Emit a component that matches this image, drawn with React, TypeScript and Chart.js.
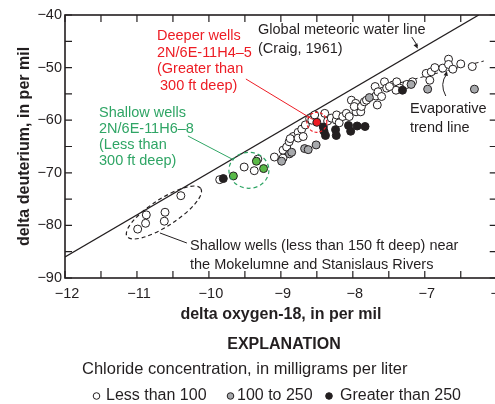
import React, { useEffect, useRef } from 'react';
import { Chart, registerables } from 'chart.js';

Chart.register(...registerables);

const FONT = '"Liberation Sans", Arial, Helvetica, sans-serif';
const INK = '#231f20';
const RED = '#ed1c24';
const GREEN_TEXT = '#2fa565';
const GREEN_FILL = '#5ab947';
const GRAY_FILL = '#a7a9ac';

const xTicks = [-12, -11, -10, -9, -8, -7, -6];
const yTicks = [-90, -80, -70, -60, -50, -40];

// Chloride < 100 mg/L (open circles)
const openX = [-10.99, -10.88, -10.87, -10.62, -10.61, -10.39, -9.85, -9.51, -9.37, -9.32, -9.09, -8.97, -8.97, -8.92, -8.885, -8.83, -8.87, -8.76, -8.71, -8.66, -8.6, -8.57, -8.53, -8.76, -8.69, -8.39, -8.35, -8.3, -8.23, -8.225, -8.19, -8.14, -8.09, -8.05, -8.02, -7.96, -7.955, -7.98, -7.89, -7.88, -7.84, -7.81, -7.69, -7.68, -7.66, -7.65, -7.6, -7.56, -7.53, -7.44, -7.39, -7.35, -7.4, -7.25, -7.17, -6.98, -6.93, -6.91, -6.86, -6.75, -6.67, -6.67, -6.61, -6.5, -6.34, -7.49];
const openY = [-80.7, -79.6, -78.0, -79.2, -77.5, -74.35, -71.3, -68.9, -69.6, -67.4, -67.0, -67.2, -65.7, -65.1, -64.1, -63.1, -63.5, -62.3, -61.7, -60.9, -59.7, -60.0, -59.0, -63.4, -63.1, -58.7, -60.15, -59.6, -60.0, -59.0, -60.5, -59.3, -58.7, -59.3, -56.2, -56.8, -58.4, -57.4, -58.4, -57.4, -56.5, -56.2, -53.6, -55.4, -57.1, -54.6, -55.5, -52.7, -53.9, -53.3, -52.7, -53.9, -54.3, -53.2, -52.7, -51.1, -52.4, -50.8, -50.0, -50.1, -48.4, -49.4, -50.3, -49.3, -49.8, -53.6];

// Chloride 100 to 250 mg/L (gray)
const grayX = [-8.99, -8.88, -8.85, -8.67, -8.62, -8.51, -7.77, -7.19, -6.96, -6.31];
const grayY = [-67.8, -66.4, -66.1, -65.4, -65.6, -64.7, -55.7, -53.2, -54.1, -54.1];

// Chloride > 250 mg/L (black)
const blackX = [-9.8, -8.41, -8.4, -8.38, -8.24, -8.23, -8.06, -8.03, -7.94, -7.83, -7.31];
const blackY = [-71.1, -61.3, -62.1, -62.9, -61.8, -62.9, -61.0, -62.1, -61.1, -61.2, -54.3];

// Shallow wells 2N/6E-11H6-8 (green)
const greenX = [-9.66, -9.34, -9.24];
const greenY = [-70.6, -67.8, -69.2];

// Deeper wells 2N/6E-11H4-5 (red)
const redX = [-8.5];
const redY = [-60.4];

// Global meteoric water line dD = 8*d18O + 10
const gmwlX = [-12, -6.25];
const gmwlY = [-86, -40];

// Evaporative trend line
const trendX = [-7.625, -6.18];
const trendY = [-53.9, -48.75];

const legendLabels = ['Less than 100', '100 to 250', 'Greater than 250'];

const pts = (xs: number[], ys: number[]) => xs.map((x, i) => ({ x, y: ys[i] }));
const minus = (v: number) => (v < 0 ? '\u2212' : '') + Math.abs(v);

function arrowHead(ctx: CanvasRenderingContext2D, fx: number, fy: number, tx: number, ty: number, len: number, w: number) {
  const ang = Math.atan2(ty - fy, tx - fx);
  ctx.beginPath();
  ctx.moveTo(tx, ty);
  ctx.lineTo(tx - len * Math.cos(ang) + w * Math.sin(ang), ty - len * Math.sin(ang) - w * Math.cos(ang));
  ctx.lineTo(tx - len * Math.cos(ang) - w * Math.sin(ang), ty - len * Math.sin(ang) + w * Math.cos(ang));
  ctx.closePath();
  ctx.fill();
}

const decor = {
  id: 'decor',
  afterDatasetsDraw(chart: any) {
    const { ctx, chartArea: a, scales } = chart;
    const sx = scales.x;
    const sy = scales.y;
    const X = (v: number) => sx.getPixelForValue(v);
    const Y = (v: number) => sy.getPixelForValue(v);
    ctx.save();

    // frame with inward ticks
    ctx.strokeStyle = INK;
    ctx.lineWidth = 1.6;
    ctx.strokeRect(a.left, a.top, a.right - a.left, a.bottom - a.top);
    ctx.lineWidth = 1.2;
    ctx.beginPath();
    for (let v = xTicks[0]; v <= xTicks[xTicks.length - 1] + 1e-9; v += 0.5) {
      const p = X(v);
      ctx.moveTo(p, a.bottom); ctx.lineTo(p, a.bottom - 7);
      ctx.moveTo(p, a.top); ctx.lineTo(p, a.top + 7);
    }
    for (let v = yTicks[0]; v <= yTicks[yTicks.length - 1] + 1e-9; v += 5) {
      const p = Y(v);
      ctx.moveTo(a.left, p); ctx.lineTo(a.left + 7, p);
      ctx.moveTo(a.right, p); ctx.lineTo(a.right - 7, p);
    }
    ctx.stroke();

    // red dashed circle + leader
    ctx.strokeStyle = RED;
    ctx.lineWidth = 1.2;
    ctx.setLineDash([3, 2]);
    ctx.beginPath();
    ctx.arc(X(redX[0]), Y(redY[0]), 10, 0, Math.PI * 2);
    ctx.stroke();
    ctx.setLineDash([]);
    ctx.lineWidth = 1;
    ctx.beginPath();
    ctx.moveTo(X(-9.486), Y(-52.17));
    ctx.lineTo(X(-8.556), Y(-59.87));
    ctx.stroke();

    // green dashed ellipse + leader
    ctx.strokeStyle = GREEN_TEXT;
    ctx.lineWidth = 1.2;
    ctx.setLineDash([4, 3]);
    ctx.beginPath();
    ctx.ellipse(X(-9.444), Y(-69.52), 20, 18, 0, 0, Math.PI * 2);
    ctx.stroke();
    ctx.setLineDash([]);
    ctx.lineWidth = 1;
    ctx.beginPath();
    ctx.moveTo(X(-10.292), Y(-63.0));
    ctx.lineTo(X(-9.653), Y(-67.57));
    ctx.stroke();

    // black dashed ellipse + leader
    ctx.strokeStyle = INK;
    ctx.lineWidth = 1.2;
    ctx.setLineDash([4, 3]);
    ctx.beginPath();
    ctx.ellipse(X(-10.625), Y(-77.55), 44, 13.5, -33 * Math.PI / 180, 0, Math.PI * 2);
    ctx.stroke();
    ctx.setLineDash([]);
    ctx.lineWidth = 1;
    ctx.beginPath();
    ctx.moveTo(X(-10.681), Y(-81.44));
    ctx.lineTo(X(-10.306), Y(-83.35));
    ctx.stroke();

    // GMWL arrow
    ctx.fillStyle = INK;
    ctx.beginPath();
    ctx.moveTo(X(-7.181), Y(-44.18));
    ctx.lineTo(X(-7.1), Y(-45.9));
    ctx.stroke();
    arrowHead(ctx, X(-7.181), Y(-44.18), X(-7.097), Y(-46.4), 5, 2.2);

    // Evaporative arrow (curved)
    ctx.beginPath();
    ctx.moveTo(X(-6.708), Y(-55.4));
    ctx.quadraticCurveTo(X(-6.80), Y(-53.1), X(-6.694), Y(-51.2));
    ctx.stroke();
    arrowHead(ctx, X(-6.72), Y(-52.3), X(-6.694), Y(-50.6), 5, 2.2);

    // annotation texts
    ctx.textBaseline = 'middle';
    ctx.textAlign = 'left';
    ctx.font = `14.5px ${FONT}`;
    ctx.fillStyle = INK;
    ctx.fillText('Global meteoric water line', 258, 30);
    ctx.fillText('(Craig, 1961)', 258, 49);
    ctx.fillText('Evaporative', 410, 109);
    ctx.fillText('trend line', 410, 128);
    ctx.fillText('Shallow wells (less than 150 ft deep) near', 190, 246);
    ctx.fillText('the Mokelumne and Stanislaus Rivers', 190, 265);

    ctx.fillStyle = RED;
    ctx.fillText('Deeper wells', 157, 36);
    ctx.fillText('2N/6E-11H4\u20135', 157, 52.5);
    ctx.fillText('(Greater than', 157, 69);
    ctx.fillText('300 ft deep)', 160, 85.5);

    ctx.fillStyle = GREEN_TEXT;
    ctx.fillText('Shallow wells', 99, 112.5);
    ctx.fillText('2N/6E-11H6\u20138', 99, 128.5);
    ctx.fillText('(Less than', 99, 144.5);
    ctx.fillText('300 ft deep)', 99, 160.5);

    // explanation
    ctx.fillStyle = INK;
    ctx.textAlign = 'center';
    ctx.font = `bold 16px ${FONT}`;
    ctx.fillText('EXPLANATION', 284, 345);
    ctx.textAlign = 'left';
    ctx.font = `16.5px ${FONT}`;
    ctx.fillText('Chloride concentration, in milligrams per liter', 82, 369);

    const fills = ['#ffffff', GRAY_FILL, INK];
    const mx = [96.5, 230.5, 329];
    const tx = [106, 237, 340];
    ctx.font = `16px ${FONT}`;
    legendLabels.forEach((lab, i) => {
      ctx.beginPath();
      ctx.arc(mx[i], 396, 3.3, 0, Math.PI * 2);
      ctx.fillStyle = fills[i];
      ctx.fill();
      ctx.lineWidth = 1;
      ctx.strokeStyle = INK;
      ctx.stroke();
      ctx.fillStyle = INK;
      ctx.fillText(lab, tx[i], 396);
    });

    ctx.restore();
  },
};

export default function App() {
  const ref = useRef<HTMLCanvasElement | null>(null);
  useEffect(() => {
    document.body.style.margin = '0';
    const canvas = ref.current;
    if (!canvas) return;
    const pointDs = (label: string, xs: number[], ys: number[], fill: string, order: number) => ({
      type: 'scatter' as const,
      label,
      data: pts(xs, ys),
      backgroundColor: fill,
      borderColor: INK,
      borderWidth: 1,
      pointRadius: 4,
      pointHoverRadius: 4,
      order,
    });
    const chart = new Chart(canvas, {
      type: 'scatter',
      data: {
        datasets: [
          {
            type: 'line',
            label: 'Global meteoric water line',
            data: pts(gmwlX, gmwlY),
            borderColor: INK,
            borderWidth: 1.3,
            pointRadius: 0,
            showLine: true,
            fill: false,
            order: 10,
          } as any,
          {
            type: 'line',
            label: 'Evaporative trend line',
            data: pts(trendX, trendY),
            borderColor: INK,
            borderWidth: 1,
            borderDash: [4, 3],
            pointRadius: 0,
            showLine: true,
            fill: false,
            order: 9,
          } as any,
          pointDs(legendLabels[0], openX, openY, '#ffffff', 5),
          pointDs(legendLabels[1], grayX, grayY, GRAY_FILL, 4),
          pointDs(legendLabels[2], blackX, blackY, INK, 3),
          pointDs('Shallow wells 2N/6E-11H6-8', greenX, greenY, GREEN_FILL, 2),
          pointDs('Deeper wells 2N/6E-11H4-5', redX, redY, RED, 1),
        ],
      },
      options: {
        animation: false,
        responsive: false,
        events: [],
        layout: { padding: { top: 15, right: 15, bottom: 76, left: 0 } },
        plugins: { legend: { display: false }, tooltip: { enabled: false }, title: { display: false } },
        scales: {
          x: {
            type: 'linear',
            min: xTicks[0],
            max: xTicks[xTicks.length - 1],
            afterBuildTicks: (s: any) => { s.ticks = xTicks.map((v) => ({ value: v })); },
            afterFit: (s: any) => { s.height = 50; },
            grid: { display: false, drawTicks: false },
            border: { display: false },
            ticks: {
              color: INK,
              font: { family: FONT, size: 14.5 },
              padding: 7,
              labelOffset: 2,
              maxRotation: 0,
              autoSkip: false,
              callback: (v: any) => minus(Number(v)),
            },
            title: {
              display: true,
              text: 'delta oxygen-18, in per mil',
              color: INK,
              font: { family: FONT, size: 16, weight: 'bold' },
              padding: { top: 0, bottom: 3.4 },
            },
          },
          y: {
            type: 'linear',
            min: yTicks[0],
            max: yTicks[yTicks.length - 1],
            afterBuildTicks: (s: any) => { s.ticks = yTicks.map((v) => ({ value: v })); },
            afterFit: (s: any) => { s.width = 65; },
            grid: { display: false, drawTicks: false },
            border: { display: false },
            ticks: {
              color: INK,
              font: { family: FONT, size: 14.5 },
              padding: 3,
              autoSkip: false,
              callback: (v: any) => minus(Number(v)),
            },
            title: {
              display: true,
              text: 'delta deuterium, in per mil',
              color: INK,
              font: { family: FONT, size: 16, weight: 'bold' },
              padding: { top: 15.4, bottom: 0 },
            },
          },
        },
      },
      plugins: [decor],
    });
    return () => chart.destroy();
  }, []);
  return (
    <div style={{ width: 495, height: 404, overflow: 'hidden', position: 'relative', background: '#fff' }}>
      <canvas ref={ref} width={512} height={404} style={{ display: 'block' }} />
    </div>
  );
}
